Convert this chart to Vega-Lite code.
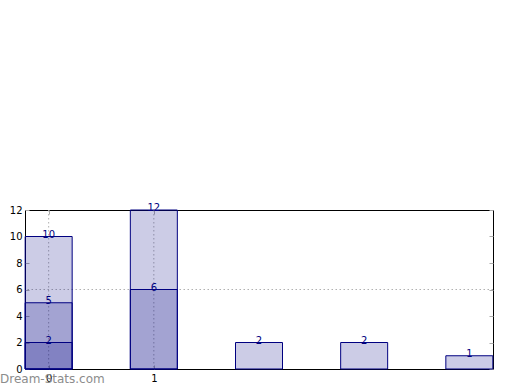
{
  "$schema": "https://vega.github.io/schema/vega-lite/v6.json",
  "width": 468,
  "height": 159,
  "autosize": "none",
  "padding": {"left": 25, "top": 210, "right": 27, "bottom": 21},
  "background": "white",
  "config": {
    "view": {"stroke": "black", "strokeWidth": 1},
    "font": "DejaVu Sans"
  },
  "title": {
    "text": "Dream-Stats.com",
    "orient": "bottom",
    "anchor": "start",
    "frame": "group",
    "baseline": "top",
    "offset": 0,
    "dx": -25,
    "dy": -9,
    "font": "DejaVu Sans",
    "fontSize": 12,
    "fontWeight": "normal",
    "color": "#8c8c8c"
  },
  "datasets": {
    "bars": [
      {"x": 0, "v": 10},
      {"x": 1, "v": 12},
      {"x": 2, "v": 2},
      {"x": 3, "v": 2},
      {"x": 4, "v": 1},
      {"x": 0, "v": 5},
      {"x": 1, "v": 6},
      {"x": 0, "v": 2}
    ],
    "vgrid": [{"x": 0}, {"x": 1}],
    "hgrid": [{"y": 6}]
  },
  "resolve": {"axis": {"y": "independent", "x": "independent"}},
  "layer": [
    {
      "data": {"name": "vgrid"},
      "mark": {"type": "rule", "color": "#b0b0b0", "strokeDash": [1.5, 2.5], "strokeWidth": 1},
      "encoding": {
        "x": {"field": "x", "type": "quantitative", "scale": {"domain": [-0.225, 4.225], "nice": false, "zero": false, "padding": 0}, "axis": {"orient": "top", "values": [0, 1], "labels": false, "domain": false, "grid": false, "ticks": true, "tickSize": -4, "tickColor": "#aaaaaa", "title": null}}
      }
    },
    {
      "data": {"name": "hgrid"},
      "mark": {"type": "rule", "color": "#b0b0b0", "strokeDash": [1.5, 2.5], "strokeWidth": 1},
      "encoding": {
        "y": {"field": "y", "type": "quantitative", "scale": {"domain": [0, 12], "nice": false}, "axis": {"orient": "right", "values": [0, 2, 4, 6, 8, 10, 12], "labels": false, "domain": false, "grid": false, "ticks": true, "tickSize": -4, "tickColor": "#aaaaaa", "title": null}}
      }
    },
    {
      "data": {"name": "bars"},
      "mark": {"type": "bar", "size": 47, "fill": "#000080", "fillOpacity": 0.2, "stroke": "#000080", "strokeWidth": 1},
      "encoding": {
        "x": {"field": "x", "type": "quantitative", "scale": {"domain": [-0.225, 4.225], "nice": false, "zero": false, "padding": 0}, "axis": {"orient": "bottom", "values": [0, 1], "format": "d", "domain": false, "grid": false, "tickSize": -4, "tickColor": "#aaaaaa", "labelPadding": 8, "labelFontSize": 10, "labelColor": "black", "labelFont": "DejaVu Sans", "title": null}},
        "y": {"field": "v", "type": "quantitative", "stack": null, "scale": {"domain": [0, 12], "nice": false}, "axis": {"orient": "left", "values": [0, 2, 4, 6, 8, 10, 12], "domain": false, "grid": false, "tickSize": -4, "tickColor": "#aaaaaa", "labelPadding": 7, "labelFontSize": 10, "labelColor": "black", "labelFont": "DejaVu Sans", "title": null}}
      }
    },
    {
      "data": {"name": "bars"},
      "mark": {"type": "text", "baseline": "alphabetic", "align": "center", "dy": 1, "fontSize": 10, "font": "DejaVu Sans", "color": "#000080"},
      "encoding": {
        "x": {"field": "x", "type": "quantitative", "scale": {"domain": [-0.225, 4.225], "nice": false, "zero": false, "padding": 0}, "axis": null},
        "y": {"field": "v", "type": "quantitative", "stack": null, "scale": {"domain": [0, 12], "nice": false}, "axis": null},
        "text": {"field": "v", "type": "quantitative"}
      }
    }
  ]
}
